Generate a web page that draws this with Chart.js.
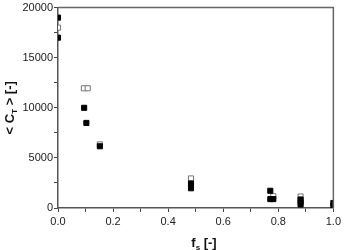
<!DOCTYPE html>
<html lang="en">

<head>
  <meta charset="UTF-8">
  <title>CT vs fs</title>
  <script src="https://cdn.jsdelivr.net/npm/chart.js"></script>
  <style>
    body {
      margin: 0;
      background: #fff;
    }

    #wrap {
      width: 344px;
      height: 250px;
    }
  </style>
</head>

<body>
  <div id="wrap">
    <canvas id="chart" width="344" height="250"></canvas>
  </div>

  <script>
    // filled squares
    const filledX = [0, 0, 0.095, 0.103, 0.152, 0.483, 0.483, 0.771, 0.771, 0.782, 0.881, 0.881, 0.881, 1.0, 1.0];
    const filledY = [19000, 17000, 10000, 8490, 6160, 2450, 1970, 1720, 890, 890, 850, 600, 350, 500, 250];
    // open squares
    const openX = [0, 0.094, 0.108, 0.152, 0.483, 0.782, 0.881];
    const openY = [18000, 11950, 11950, 6350, 2950, 1180, 1150];

    const yTitle = ["< C", "T", " > [-]"];
    const xTitle = ["f", "s", " [-]"];

    const toPoints = (xs, ys) => xs.map((x, i) => ({ x: x, y: ys[i] }));

    // titles with subscripts + box around plot
    const extras = {
      id: "extras",
      afterDraw(chart) {
        const ctx = chart.ctx;
        const a = chart.chartArea;
        ctx.save();
        ctx.strokeStyle = "#666";
        ctx.lineWidth = 1.5;
        ctx.beginPath();
        ctx.moveTo(a.left, a.top);
        ctx.lineTo(a.right, a.top);
        ctx.lineTo(a.right, a.bottom);
        ctx.stroke();

        const big = "bold 13px 'Liberation Sans', Arial, sans-serif";
        const small = "bold 8px 'Liberation Sans', Arial, sans-serif";
        const drawSub = (parts, cx, cy) => {
          ctx.font = big;
          const w0 = ctx.measureText(parts[0]).width;
          const w2 = ctx.measureText(parts[2]).width;
          ctx.font = small;
          const w1 = ctx.measureText(parts[1]).width;
          let x = cx - (w0 + w1 + w2) / 2;
          ctx.textBaseline = "middle";
          ctx.textAlign = "left";
          ctx.fillStyle = "#111";
          ctx.font = big;
          ctx.fillText(parts[0], x, cy);
          x += w0;
          ctx.font = small;
          ctx.fillText(parts[1], x, cy + 5);
          x += w1;
          ctx.font = big;
          ctx.fillText(parts[2], x, cy);
        };

        drawSub(xTitle, 204, 243);
        ctx.save();
        ctx.translate(10, (a.top + a.bottom) / 2);
        ctx.rotate(-Math.PI / 2);
        drawSub(yTitle, 0, 0);
        ctx.restore();
        ctx.restore();
      }
    };

    new Chart(document.getElementById("chart"), {
      type: "scatter",
      data: {
        datasets: [{
          label: "filled",
          data: toPoints(filledX, filledY),
          pointStyle: "rect",
          pointRadius: 3.6,
          backgroundColor: "#000",
          borderColor: "#000",
          borderWidth: 1,
          clip: 0
        }, {
          label: "open",
          data: toPoints(openX, openY),
          pointStyle: "rect",
          pointRadius: 3.6,
          backgroundColor: "#fff",
          borderColor: "#777",
          borderWidth: 1,
          clip: 0
        }]
      },
      options: {
        animation: false,
        responsive: false,
        layout: {
          padding: { top: 5, right: 9, left: 0, bottom: 0 }
        },
        scales: {
          x: {
            type: "linear",
            min: 0,
            max: 1,
            afterFit: s => { s.height = 42; },
            border: { color: "#555", width: 1.5 },
            grid: { drawOnChartArea: false, tickLength: 4, color: "#444" },
            ticks: {
              stepSize: 0.1,
              padding: 3,
              color: "#222",
              font: { family: "'Liberation Sans', Arial, sans-serif", size: 11 },
              maxRotation: 0,
              autoSkip: false,
              callback: v => Math.round(v * 10) % 2 === 0 ? v.toFixed(1) : ""
            }
          },
          y: {
            min: 0,
            max: 20000,
            afterFit: s => { s.width = 58; },
            border: { color: "#555", width: 1.5 },
            grid: { drawOnChartArea: false, tickLength: 4, color: "#444" },
            ticks: {
              stepSize: 2500,
              padding: 1,
              color: "#222",
              font: { family: "'Liberation Sans', Arial, sans-serif", size: 11 },
              autoSkip: false,
              callback: v => v % 5000 === 0 ? String(v) : ""
            }
          }
        },
        plugins: {
          legend: { display: false },
          tooltip: { enabled: false }
        }
      },
      plugins: [extras]
    });
  </script>
</body>

</html>
